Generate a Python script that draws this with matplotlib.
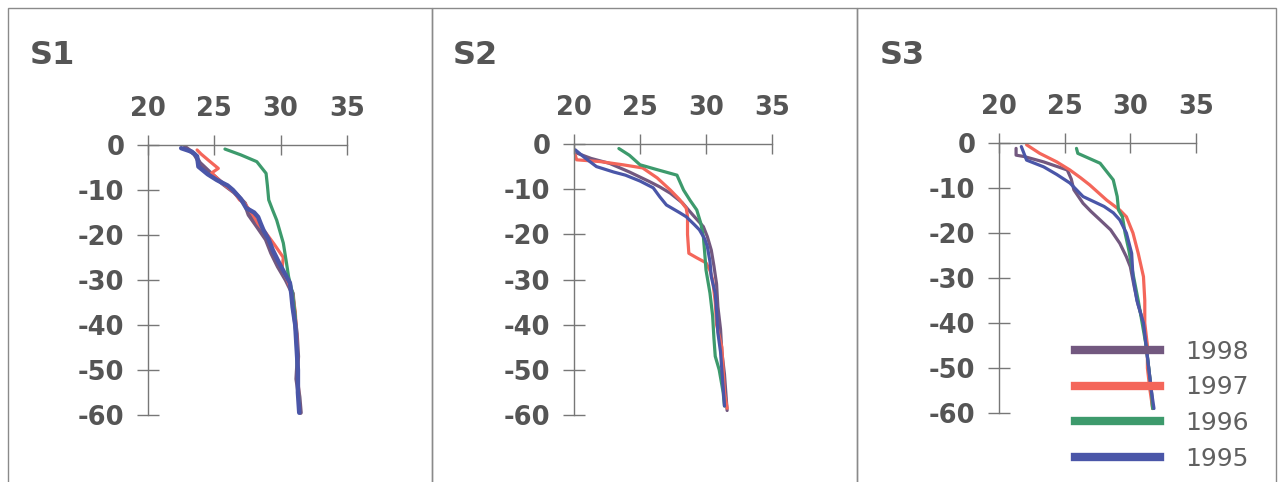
import numpy as np
import matplotlib
matplotlib.use('Agg')
import matplotlib.pyplot as plt
from matplotlib.lines import Line2D

plt.rcParams['axes.unicode_minus'] = False

# Salinity profiles (salinity, depth in m)
years = ['1998', '1997', '1996', '1995']
colors = ['#72587f', '#f4665a', '#3d9a6c', '#4a56a8']

# S1
s1_1998_sal = [22.8, 23.5, 23.9, 24.8, 25.6, 26.5, 27.3, 27.6, 28.2, 28.9, 29.3, 29.8, 30.4, 30.9, 31.0, 31.2, 31.3, 31.2, 31.4, 31.5]
s1_1998_dep = [-0.5, -2, -4, -6.5, -8.5, -10.5, -13, -15.5, -18, -21, -24, -27, -30, -33, -37, -42, -47, -52, -56, -59.5]
s1_1997_sal = [23.7, 24.0, 24.6, 25.3, 24.8, 25.6, 26.5, 26.9, 27.3, 27.9, 28.3, 28.9, 29.5, 30.2, 30.1, 30.5, 30.9, 31.1, 31.2, 31.3, 31.4]
s1_1997_dep = [-1.1, -2, -3.5, -5.2, -6.2, -8.5, -10.5, -12.2, -13, -15.5, -17.5, -19.6, -22, -25, -27.5, -30, -33, -37, -42, -50, -59]
s1_1996_sal = [25.8, 27.0, 28.2, 28.9, 29.0, 29.1, 29.4, 29.7, 30.2, 30.4, 30.6, 30.9, 31.1, 31.2, 31.3, 31.4]
s1_1996_dep = [-0.9, -2.2, -3.7, -6.3, -9, -12.2, -14.5, -16.7, -21.8, -25.5, -29.3, -33, -38, -45, -52, -59]
s1_1995_sal = [22.5, 23.3, 23.7, 23.8, 24.5, 25.2, 26.0, 26.4, 27.0, 27.4, 28.0, 28.3, 28.5, 28.7, 29.1, 29.4, 29.9, 30.3, 30.7, 30.8, 30.9, 31.1, 31.2, 31.3, 31.3, 31.4]
s1_1995_dep = [-0.7, -1.5, -2.5, -4.8, -6.5, -7.8, -9, -10, -12, -14, -15, -16, -17.5, -18.9, -21, -23.3, -26.3, -28.5, -30.7, -33, -36, -40, -45, -50, -55, -59.5]

# S2
s2_1998_sal = [20.2, 21.3, 22.7, 24.2, 25.7, 26.5, 27.3, 28.2, 29.0, 29.8, 30.1, 30.4, 30.6, 30.8, 30.9, 31.1, 31.2, 31.4, 31.5, 31.6]
s2_1998_dep = [-2, -3.2, -4.3, -6.2, -8.3, -9.5, -10.9, -13, -15.7, -18.3, -20.5, -23.5, -27, -31, -36, -41, -46, -51, -55, -59]
s2_1997_sal = [20.1, 20.2, 22.0, 23.7, 25.2, 26.3, 27.3, 28.0, 28.5, 28.6, 28.6, 28.7, 29.3, 30.0, 30.3, 30.5, 30.7, 30.8, 31.2, 31.3, 31.4, 31.6]
s2_1997_dep = [-2.5, -3.5, -3.9, -4.6, -5.3, -7.5, -10.2, -12.3, -14.2, -16, -20, -24.2, -25.2, -26.3, -28, -30, -35, -40, -45, -50, -55, -58.5]
s2_1996_sal = [23.4, 24.2, 25.0, 26.2, 27.8, 28.3, 28.8, 29.3, 29.6, 29.8, 29.9, 30.0, 30.3, 30.5, 30.6, 30.7, 31.0, 31.3, 31.4]
s2_1996_dep = [-1, -2.5, -4.6, -5.6, -6.9, -10.2, -12.5, -14.6, -17.5, -20.5, -24, -27.9, -33, -38, -43, -47, -50, -55, -58]
s2_1995_sal = [20.1, 20.8, 21.7, 23.0, 23.9, 25.0, 26.0, 26.5, 27.0, 28.0, 28.5, 29.1, 29.5, 29.9, 30.1, 30.3, 30.4, 30.7, 30.8, 30.9, 31.1, 31.2, 31.3, 31.4]
s2_1995_dep = [-1.3, -3, -5, -6.2, -6.9, -8.2, -9.7, -11.7, -13.5, -15.2, -16.1, -17.8, -19, -21, -22.7, -26, -29.4, -33, -37, -41.8, -46, -50, -54, -58]

# S3
s3_1998_sal = [21.3, 21.3, 21.9, 23.4, 25.2, 25.5, 25.7, 26.4, 27.0, 27.7, 28.5, 29.2, 29.7, 30.0, 30.3, 30.6, 31.0, 31.2, 31.4, 31.6, 31.7]
s3_1998_dep = [-1.2, -2.7, -3, -4.2, -6, -8, -10.4, -13.4, -15.2, -17.1, -19.3, -22.3, -25.3, -27.5, -32, -36, -40, -45, -50, -55, -59]
s3_1997_sal = [22.1, 23.1, 24.4, 25.4, 26.2, 26.9, 28.2, 29.2, 29.7, 30.2, 30.6, 31.0, 31.1, 31.1, 31.3, 31.3, 31.5, 31.7]
s3_1997_dep = [-0.4, -2.3, -4.2, -6, -7.7, -9.3, -12.7, -14.9, -16.4, -20, -24.5, -29.7, -35, -40, -45, -50, -55, -59]
s3_1996_sal = [25.9, 26.0, 27.7, 28.7, 29.0, 29.1, 29.4, 29.6, 29.9, 30.2, 30.6, 30.9, 31.2, 31.4, 31.6, 31.7]
s3_1996_dep = [-1.2, -2.3, -4.5, -8.2, -11.9, -14.9, -16.4, -20, -24, -29, -35, -40, -45, -50, -55, -59]
s3_1995_sal = [21.7, 22.1, 23.4, 24.4, 25.4, 26.4, 27.2, 28.0, 28.7, 29.2, 29.7, 30.1, 30.2, 30.5, 31.0, 31.2, 31.4, 31.6, 31.8]
s3_1995_dep = [-0.8, -3.8, -5.3, -7, -8.9, -11.9, -13, -14.1, -15.5, -17.1, -20, -24.5, -29.7, -35, -40, -45, -50, -55, -59]

panels = [
    ('S1', [(s1_1998_sal, s1_1998_dep), (s1_1997_sal, s1_1997_dep), (s1_1996_sal, s1_1996_dep), (s1_1995_sal, s1_1995_dep)]),
    ('S2', [(s2_1998_sal, s2_1998_dep), (s2_1997_sal, s2_1997_dep), (s2_1996_sal, s2_1996_dep), (s2_1995_sal, s2_1995_dep)]),
    ('S3', [(s3_1998_sal, s3_1998_dep), (s3_1997_sal, s3_1997_dep), (s3_1996_sal, s3_1996_dep), (s3_1995_sal, s3_1995_dep)]),
]

x_ticks = [20, 25, 30, 35]
y_ticks = [0, -10, -20, -30, -40, -50, -60]

W, H = 1278, 482
# pixel layout: (axis left, axis right, axis top, axis bottom), frame left/right, title x
ax_px = [(148, 347, 145, 415), (574, 772, 144, 415), (999, 1196, 143, 413)]
frame_px = [(8, 432), (432, 857), (857, 1276)]
title_px = [30, 453, 880]

text_gray = '#555555'
axis_gray = '#777777'

fig = plt.figure(figsize=(W / 100, H / 100), dpi=100)

# panel frames
for fl, fr in frame_px:
    fig.add_artist(plt.Rectangle((fl / W, -0.1), (fr - fl) / W, 1.1 - 8 / H,
                                 transform=fig.transFigure, fill=False,
                                 edgecolor='#8a8a8a', linewidth=1.0))

axes = []
for i, (name, series) in enumerate(panels):
    l, r, t, b = ax_px[i]
    ax = fig.add_axes([l / W, 1 - b / H, (r - l) / W, (b - t) / H])
    for (sal, dep), c, yr in zip(series, colors, years):
        lw = 3.2 if i == 0 and yr in ('1998', '1995') else 2.3
        ax.plot(sal, dep, color=c, linewidth=lw, label=yr, solid_capstyle='round')
    ax.set_xlim(20, 35)
    ax.set_ylim(-60, 0)
    ax.set_xticks(x_ticks)
    ax.set_yticks(y_ticks)
    ax.xaxis.set_ticks_position('top')
    ax.spines['right'].set_visible(False)
    ax.spines['bottom'].set_visible(False)
    for sp in ('top', 'left'):
        ax.spines[sp].set_color(axis_gray)
        ax.spines[sp].set_linewidth(1.0)
    ax.tick_params(axis='x', direction='inout', length=15, width=1, color=axis_gray,
                   pad=9, labelsize=18.5, labelcolor=text_gray)
    ax.tick_params(axis='y', direction='inout', length=16, width=1, color=axis_gray,
                   pad=9, labelsize=18.5, labelcolor=text_gray)
    for lab in ax.get_xticklabels() + ax.get_yticklabels():
        lab.set_fontweight('bold')
    ax.patch.set_alpha(0)
    fig.text(title_px[i] / W, 1 - 55 / H, name, fontsize=23, fontweight='bold',
             color=text_gray, va='center', ha='left')
    axes.append(ax)

# legend in the S3 panel
handles = [Line2D([0], [0], color=c, linewidth=6) for c in colors]
leg = fig.legend(handles, years, loc='upper left',
                 bbox_to_anchor=(1075 / W, 1 - 340 / H), frameon=False,
                 fontsize=18, handlelength=3.4, handletextpad=1.0,
                 labelspacing=0.46, borderpad=0, borderaxespad=0)
for txt in leg.get_texts():
    txt.set_color('#606060')

fig.savefig('out.png', dpi=100)
